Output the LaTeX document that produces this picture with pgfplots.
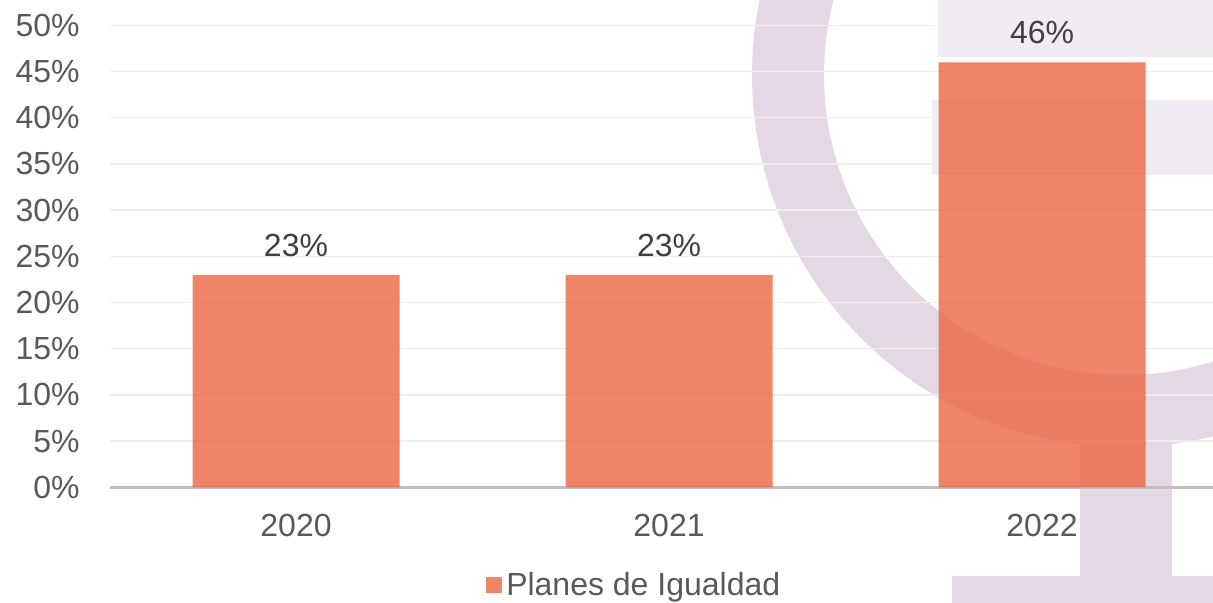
\documentclass[border=0pt]{standalone}
\usepackage{pgfplots}
\pgfplotsset{compat=1.18}
\usepackage{fontspec}
\setmainfont{Liberation Sans}
\definecolor{barc}{RGB}{235,101,67}
\definecolor{wm}{RGB}{227,216,228}
\definecolor{wml}{RGB}{241,236,243}
\definecolor{gridc}{RGB}{238,238,238}
\definecolor{basec}{RGB}{191,191,191}
\definecolor{tickc}{RGB}{89,89,89}
\definecolor{labc}{RGB}{64,64,64}
\begin{document}
\begin{tikzpicture}
\begin{axis}[
  name=ax,
  set layers,
  scale only axis,
  width=551.5pt, height=231pt,
  xmin=-0.4987, xmax=2.4584,
  ymin=0, ymax=50,
  clip=false,
  axis x line*=bottom,
  axis y line*=left,
  y axis line style={draw=none},
  x axis line style={draw=basec, line width=1.4pt, -},
  ymajorgrids,
  grid style={draw=gridc, line width=0.75pt},
  ytick={0,5,...,50},
  xtick={0,1,2},
  xticklabels={2020,2021,2022},
  major tick length=0pt,
  /pgf/number format/assume math mode=true,
  font=\fontsize{16}{19}\selectfont,
  tick label style={text=tickc, font=\fontsize{16}{19}\selectfont},
  yticklabel={\pgfmathprintnumber{\tick}\%},
  yticklabel style={anchor=east, inner sep=0pt, xshift=-15pt},
  xticklabel style={anchor=north, inner sep=0pt, yshift=-13pt},
  ybar,
  bar width=103.5pt,
  nodes near coords={\pgfmathprintnumber{\pgfplotspointmeta}\%},
  nodes near coords style={color=labc, text=labc, font=\fontsize{16}{19}\selectfont, anchor=south, inner sep=0pt, yshift=9pt},
  legend style={at={(0.4762,-0.2115)}, anchor=center, draw=none, fill=none,
    font=\fontsize{16}{19}\selectfont, text=tickc, inner sep=0pt},
  legend image code/.code={\fill[barc, opacity=0.8] (0pt,-4pt) rectangle (8pt,4pt);},
]
\begin{pgfonlayer}{axis background}
  \fill[wml] (axis cs:1.7212,53.82) rectangle (axis cs:2.69,46.57);
  \fill[wml] (axis cs:1.705,41.94) rectangle (axis cs:2.69,33.82);
  \fill[wm, even odd rule] (axis cs:2.2198,44.62) circle[radius=186pt] (axis cs:2.2198,44.62) circle[radius=150pt];
  \fill[wm] (axis cs:2.1019,7.28) rectangle (axis cs:2.3485,-14.36);
  \fill[wm] (axis cs:1.7587,-9.56) rectangle (axis cs:2.6917,-14.36);
\end{pgfonlayer}
\addplot[fill=barc, draw=none, fill opacity=0.8, text opacity=1] coordinates {(0,23) (1,23) (2,46)};
\addlegendentry{Planes de Igualdad}
\end{axis}
\pgfresetboundingbox
\path[use as bounding box] ([xshift=-55pt, yshift=-57.85pt]ax.south west) rectangle ([yshift=12.65pt]ax.north east);
\end{tikzpicture}
\end{document}
